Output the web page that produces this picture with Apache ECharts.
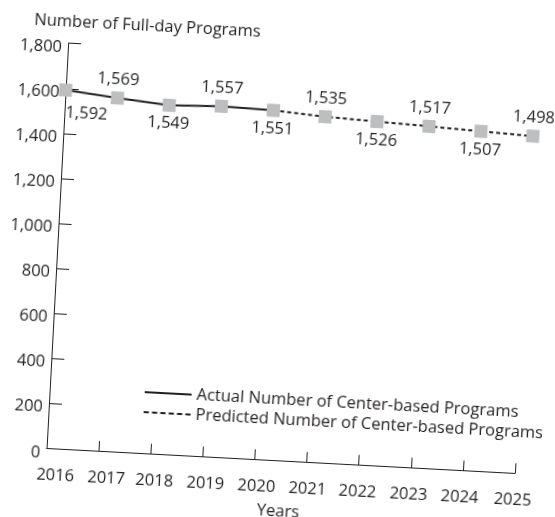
<!DOCTYPE html>
<html>
<head>
<meta charset="utf-8">
<script src="https://cdn.jsdelivr.net/npm/echarts@6/dist/echarts.min.js"></script>
<style>
  html, body { margin: 0; padding: 0; background: #fff; overflow: hidden; }
  #chart {
    position: absolute; left: 0; top: 0;
    width: 555px; height: 517px;
    transform: rotate(3.05deg);
    transform-origin: 50% 50%;
  }
</style>
</head>
<body>
<div id="chart"></div>
<script>
// Full-day programs per year: actual counts through 2020, forecast afterwards
const years = ['2016', '2017', '2018', '2019', '2020', '2021', '2022', '2023', '2024', '2025'];
const actualValues = [1592, 1569, 1549, 1557, 1551, null, null, null, null, null];
const predictedValues = [null, null, null, null, 1551, 1535, 1526, 1517, 1507, 1498];
const yMin = 0;
const yMax = 1800;
const yStep = 200;

const actualName = 'Actual Number of Center-based Programs';
const predictedName = 'Predicted Number of Center-based Programs';

const INK = '#231f20';
const MARKER = '#bcbec0';
const FONT = 'Open Sans';
const FS = 16.5;

// small horizontal nudges for the year labels (px)
const yearNudge = [10, 9, 5, 4, 3, 2, 0, -1, -2, -1];

const fmt = v => Number(v).toLocaleString('en-US');

function pointLabel(i) {
  let offset;
  if (i === 0) offset = [22, 23];
  else if (i % 2 === 1) offset = [0, -18];
  else offset = [0, 18.5];
  return {
    show: true, position: 'inside', offset: offset,
    formatter: p => fmt(p.value),
    color: INK, fontSize: FS, fontFamily: FONT
  };
}

const actualData = actualValues.map((v, i) => v == null ? null : { value: v, label: pointLabel(i) });
const predictedData = predictedValues.map((v, i) => {
  if (v == null) return null;
  if (actualValues[i] != null) return { value: v, symbol: 'none', label: { show: false } };
  return { value: v, label: pointLabel(i) };
});

const rich = {};
yearNudge.forEach((d, i) => {
  rich['n' + i] = {
    color: INK, fontSize: FS, fontFamily: FONT,
    padding: d >= 0 ? [0, 0, 0, 2 * d] : [0, -2 * d, 0, 0]
  };
});

const chart = echarts.init(document.getElementById('chart'), null, { renderer: 'canvas' });
chart.setOption({
  backgroundColor: '#fff',
  animation: false,
  textStyle: { fontFamily: FONT, color: INK },
  title: {
    text: 'Number of Full-day Programs',
    left: 22, top: 25, padding: 0,
    textStyle: { fontSize: FS, fontWeight: 'normal', color: INK, fontFamily: FONT }
  },
  grid: {
    left: 57, right: 29, top: 54.7, bottom: 56.7,
    containLabel: false, outerBoundsMode: 'none'
  },
  legend: {
    orient: 'vertical', left: 152, top: 389, padding: 0,
    itemWidth: 47, itemHeight: 2, itemGap: 0,
    symbolKeepAspect: false,
    textStyle: { fontSize: FS, color: INK, fontFamily: FONT, lineHeight: 20 },
    data: [
      { name: actualName, icon: 'path://M0,0h47v2h-47z', itemStyle: { color: INK } },
      { name: predictedName,
        icon: 'path://M0,0h5v2h-5zM8,0h5v2h-5zM16,0h5v2h-5zM24,0h5v2h-5zM32,0h5v2h-5zM40,0h5v2h-5z',
        itemStyle: { color: INK } }
    ]
  },
  xAxis: {
    type: 'category', data: years, boundaryGap: false,
    axisLine: { lineStyle: { color: INK, width: 1 } },
    axisTick: { inside: true, length: 10, lineStyle: { color: INK } },
    axisLabel: {
      interval: 0, hideOverlap: false,
      margin: 18, fontSize: FS, color: INK, fontFamily: FONT,
      formatter: (v, i) => '{n' + i + '|' + v + '}',
      rich: rich
    },
    name: 'Years', nameLocation: 'middle', nameGap: 42,
    nameTextStyle: { fontSize: FS, color: INK, fontFamily: FONT }
  },
  yAxis: {
    type: 'value', min: yMin, max: yMax, interval: yStep,
    axisLine: { show: true, lineStyle: { color: INK, width: 1 } },
    axisTick: { show: true, inside: true, length: 13, lineStyle: { color: INK } },
    splitLine: { show: false },
    axisLabel: {
      margin: 6, fontSize: FS, color: INK, fontFamily: FONT,
      verticalAlign: 'top', lineHeight: 9,
      formatter: v => fmt(v)
    }
  },
  series: [
    {
      name: predictedName, type: 'line', data: predictedData,
      symbol: 'rect', symbolSize: 13,
      itemStyle: { color: MARKER },
      lineStyle: { color: INK, width: 2, type: [4, 3] },
      z: 2
    },
    {
      name: actualName, type: 'line', data: actualData,
      symbol: 'rect', symbolSize: 13,
      itemStyle: { color: MARKER },
      lineStyle: { color: INK, width: 2 },
      z: 3
    }
  ]
});
</script>
</body>
</html>
